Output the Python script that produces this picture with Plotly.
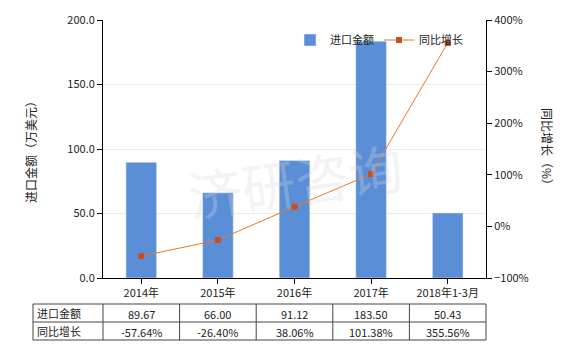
import plotly.graph_objects as go

categories = ["2014年", "2015年", "2016年", "2017年", "2018年1-3月"]
import_values = [89.67, 66.00, 91.12, 183.50, 50.43]
growth_values = [-57.64, -26.40, 38.06, 101.38, 355.56]
import_labels = ["89.67", "66.00", "91.12", "183.50", "50.43"]
growth_labels = ["-57.64%", "-26.40%", "38.06%", "101.38%", "355.56%"]
row_names = ["进口金额", "同比增长"]

W, H = 580, 350
L, R, T, B = 103, 486, 20, 278
FONT = "Noto Sans CJK SC, DejaVu Sans, sans-serif"

def px(x):
    return (x - L) / (R - L)

def py(y):
    return (B - y) / (B - T)

fig = go.Figure()
fig.add_trace(go.Bar(x=categories, y=import_values, name="进口金额",
                     marker_color="#5a8fd7", width=0.4, yaxis="y"))
fig.add_trace(go.Scatter(x=categories, y=growth_values, name="同比增长",
                         mode="lines+markers", yaxis="y2",
                         line=dict(color="#e8782a", width=1),
                         marker=dict(symbol="square", size=6, color="#c8501e")))

shapes = []
annotations = []
# table grid
col_x = [33, 103] + [103 + (R - L) * (i + 1) / 5 for i in range(5)]
row_y = [304, 322, 340]
for yv in row_y:
    shapes.append(dict(type="line", xref="paper", yref="paper",
                       x0=px(33), x1=px(R), y0=py(yv), y1=py(yv),
                       line=dict(color="#444", width=1)))
for xv in col_x:
    shapes.append(dict(type="line", xref="paper", yref="paper",
                       x0=px(xv), x1=px(xv), y0=py(304), y1=py(340),
                       line=dict(color="#444", width=1)))
rows = [import_labels, growth_labels]
for r, (name, labels) in enumerate(zip(row_names, rows)):
    yc = (row_y[r] + row_y[r + 1]) / 2
    annotations.append(dict(x=px(35), y=py(yc), xref="paper", yref="paper",
                            text=name, showarrow=False, xanchor="left", yanchor="middle",
                            font=dict(size=11, color="#222", family=FONT)))
    for i, lab in enumerate(labels):
        xc = (col_x[i + 1] + col_x[i + 2]) / 2
        annotations.append(dict(x=px(xc), y=py(yc + 1), xref="paper", yref="paper",
                                text=lab, showarrow=False, xanchor="center", yanchor="middle",
                                font=dict(size=11, color="#222", family=FONT)))

# watermark
annotations.append(dict(x=0.5, y=0.38, xref="paper", yref="paper", text="济研咨询",
                        showarrow=False, textangle=-8, xanchor="center", yanchor="middle",
                        font=dict(size=54, color="rgba(215,215,215,0.3)", family=FONT)))

# axis titles
annotations.append(dict(x=px(30), y=0.5, xref="paper", yref="paper",
                        text="进口金额（万美元）", showarrow=False, textangle=-90,
                        xanchor="center", yanchor="middle",
                        font=dict(size=12, color="#222", family=FONT)))
annotations.append(dict(x=px(548), y=0.5, xref="paper", yref="paper",
                        text="同比增长（%）", showarrow=False, textangle=90,
                        xanchor="center", yanchor="middle",
                        font=dict(size=12, color="#222", family=FONT)))

fig.update_layout(
    width=W, height=H,
    margin=dict(l=L, r=W - R, t=T, b=H - B, pad=0),
    paper_bgcolor="white", plot_bgcolor="white",
    font=dict(family=FONT, size=11, color="#222"),
    showlegend=True,
    legend=dict(orientation="h", x=px(290), y=py(40), xanchor="left", yanchor="middle",
                bgcolor="rgba(0,0,0,0)", font=dict(size=11), itemwidth=30),
    xaxis=dict(showline=True, linecolor="#000", linewidth=1, ticks="outside",
               ticklen=5, tickcolor="#000", showgrid=False,
               tickfont=dict(size=11)),
    yaxis=dict(range=[0, 200], dtick=50, tickformat=".1f", showline=True,
               linecolor="#000", linewidth=1, ticks="outside", ticklen=5,
               tickcolor="#000", gridcolor="#ebebe3", zeroline=False,
               tickfont=dict(size=11)),
    yaxis2=dict(range=[-100, 400], dtick=100, ticksuffix="%", overlaying="y",
                side="right", showline=True, linecolor="#000", linewidth=1,
                ticks="outside", ticklen=5, tickcolor="#000", showgrid=False,
                zeroline=False, tickfont=dict(size=11)),
    shapes=shapes, annotations=annotations, bargap=0.6,
)

fig.write_html("out.html")
